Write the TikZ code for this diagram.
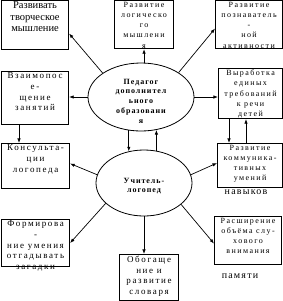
\documentclass[tikz,border=0pt]{standalone}
\usepackage{fontspec}
\setmainfont{Liberation Serif}
\newfontfamily\spaced[LetterSpace=12]{Liberation Serif}
\newfontfamily\widefont[LetterSpace=18]{Liberation Serif}
\usetikzlibrary{shapes.geometric,arrows.meta}
\tikzset{
  card/.style={rectangle, draw=black, line width=1.1pt, inner sep=0pt, anchor=north west},
  cardS/.style={card, font=\widefont\fontsize{8}{10.2}\selectfont},
  cardM/.style={card, font=\widefont\fontsize{9}{10.6}\selectfont},
  cardL/.style={card, font=\fontsize{10.5}{11.5}\selectfont},
  hub/.style={ellipse, draw=black, line width=0.8pt, inner sep=0pt, font=\spaced\bfseries\fontsize{8}{9.8}\selectfont},
  stray/.style={inner sep=0pt, font=\spaced\fontsize{10}{12}\selectfont},
  arr/.style={-{Latex[length=1.6mm, width=1.2mm]}, draw=black, line width=0.7pt},
}
\newcommand{\cardtext}[3]{\parbox[c][#2][t]{#1}{\centering\vspace*{1.5pt}#3}}
\newcommand{\hubtext}[3]{\parbox[c][30pt][c]{#1}{\centering\vspace*{#2}#3}}

\begin{document}
\begin{tikzpicture}[x=1pt, y=-1pt]
\useasboundingbox (0,0) rectangle (283,301);
% centre
\node[hub, minimum width=106pt, minimum height=68pt] (n1) at (141,97) {\hubtext{62pt}{8pt}{Педагог\\дополнител\\ьного\\образовани\\я}};
\node[hub, minimum width=96pt, minimum height=66pt] (n2) at (144,183) {\hubtext{60pt}{6pt}{Учитель-\\логопед}};
% boxes
\node[cardL] (b1) at (1,0) {\cardtext{67pt}{49pt}{Развивать\\творческое\\мышление}};
\node[cardS] (b2) at (114,0) {\cardtext{59pt}{48pt}{Развитие\\логическо\\го\\мышлени\\я}};
\node[cardS] (b3) at (215,0) {\cardtext{67pt}{48pt}{Развитие\\познаватель\\-\\ной\\активности}};
\node[cardM] (b4) at (1,71) {\cardtext{67pt}{53pt}{Взаимопос\\е-\\щение\\занятий}};
\node[cardS] (b6) at (218,68) {\cardtext{64pt}{50pt}{Выработка\\единых\\требований\\к речи\\детей}};
\node[cardM] (b7) at (1,143) {\cardtext{68pt}{45pt}{Консульта-\\ции\\логопеда}};
\node[cardS] (b9) at (217,143) {\cardtext{65pt}{44pt}{Развитие\\коммуника-\\тивных\\умений}};
\node[cardM] (b10) at (1,219) {\cardtext{68pt}{47pt}{Формирова\\-\\ние умения\\отгадывать\\загадки}};
\node[cardS] (b11) at (214,216) {\cardtext{67pt}{48pt}{Расширение\\объёма слу-\\хового\\внимания}};
\node[cardM] (b12) at (119,254) {\cardtext{59pt}{46pt}{Обогаще\\ние и\\развитие\\словаря}};
% loose words
\node[stray] (t1) at (246,192) {навыков};
\node[stray] (t2) at (240,276) {памяти};
% connectors
\draw[arr] (n1.148) -- ([yshift=-8.5pt]b1.east);
\draw[arr] (n1.north -| b2.south) -- (b2.south);
\draw[arr] (n1.33) -- ([yshift=-4pt]b3.west);
\draw[arr] (n1.west) -- (n1.west -| b4.east);
\draw[arr] (n1.east) -- (n1.east -| b6.west);
\draw[arr] ([xshift=18pt]b4.south west) -- ([xshift=18pt]b7.north west);
\draw[arr] (n1.250) -- (n1.250 |- n2.116);
\draw[arr] (n2.69) -- (n2.69 |- n1.295);
\draw[arr] ([xshift=11pt]b6.south west) -- ([xshift=11pt]b6.south west |- b9.north);
\draw[arr] ([xshift=28pt]b6.south west |- b9.north) -- ([xshift=28pt]b6.south west);
\draw[arr] (n2.170) -- ([yshift=2.5pt]b7.east);
\draw[arr] (n2.10) -- ([yshift=2.5pt]b9.west);
\draw[arr] (n2.208) -- (b10.east);
\draw[arr] (n2.330) -- ([yshift=-3pt]b11.west);
\draw[arr] (n2.south) -- (n2.south |- b12.north);
\end{tikzpicture}
\end{document}
